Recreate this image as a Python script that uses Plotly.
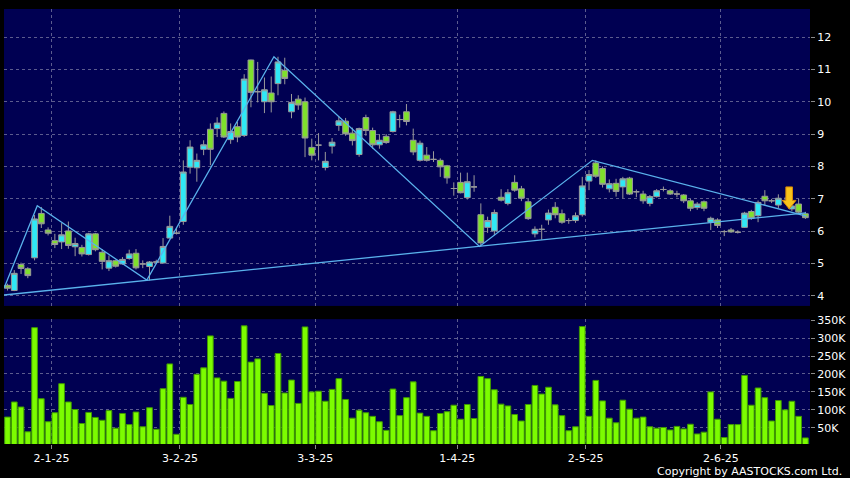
import plotly.graph_objects as go

# ---------------- data ----------------
opens = [4.33, 4.17, 4.97, 4.84, 5.18, 6.55, 6.04, 5.71, 5.67, 6.01,
         5.52, 5.50, 5.28, 5.92, 5.35, 4.86, 5.09, 4.99, 5.16, 5.32,
         4.99, 4.91, 5.05, 5.02, 5.79, 5.94, 6.30, 7.98, 7.96, 8.53,
         9.15, 9.17, 9.64, 8.83, 9.23, 8.96, 11.29, 10.31, 10.00, 10.27,
         10.56, 10.97, 9.69, 10.08, 10.00, 8.59, 8.66, 7.97, 8.63, 9.27,
         9.40, 9.03, 8.37, 9.51, 9.11, 8.67, 8.93, 9.08, 9.45, 9.69,
         8.81, 8.19, 8.35, 8.22, 8.19, 8.02, 7.32, 7.51, 7.04, 7.37,
         6.51, 6.12, 6.01, 7.05, 6.86, 7.51, 7.31, 6.91, 5.92, 6.06,
         6.35, 6.74, 6.54, 6.33, 6.33, 6.51, 7.55, 8.11, 7.94, 7.31,
         7.48, 7.37, 7.64, 7.22, 7.15, 6.86, 7.07, 7.29, 7.25, 7.15,
         7.12, 6.94, 6.73, 6.91, 6.28, 6.35, 5.99, 6.04, 5.97, 6.12,
         6.61, 6.48, 7.08, 6.94, 6.81, 6.95, 6.69, 6.84, 6.54]
highs = [4.38, 4.80, 5.03, 4.89, 6.50, 6.75, 6.12, 5.92, 6.25, 6.30,
         5.80, 5.58, 5.95, 5.95, 5.45, 5.25, 5.12, 5.20, 5.43, 5.45,
         5.10, 5.08, 5.12, 5.79, 6.48, 6.10, 8.19, 8.81, 8.40, 8.81,
         9.33, 9.52, 9.70, 9.33, 9.38, 10.85, 11.30, 11.23, 10.75, 10.78,
         11.39, 11.36, 10.24, 10.20, 10.13, 8.86, 9.03, 8.45, 8.88, 9.55,
         9.50, 9.20, 9.20, 9.60, 9.20, 9.00, 9.00, 9.72, 9.60, 9.93,
         9.17, 8.80, 8.60, 8.47, 8.25, 8.05, 7.51, 7.81, 7.81, 7.73,
         6.86, 6.45, 6.67, 7.30, 7.30, 7.73, 7.40, 7.00, 6.15, 6.20,
         6.67, 6.90, 6.67, 6.40, 6.58, 7.68, 7.89, 8.19, 8.00, 7.60,
         7.62, 7.68, 7.68, 7.29, 7.25, 7.12, 7.30, 7.38, 7.30, 7.25,
         7.15, 7.00, 6.90, 6.95, 6.45, 6.40, 6.04, 6.10, 6.03, 6.60,
         6.66, 6.95, 7.27, 7.00, 7.14, 7.05, 6.85, 7.00, 6.60]
lows = [4.17, 4.15, 4.68, 4.55, 5.10, 6.10, 5.87, 5.48, 5.45, 5.46,
        5.23, 5.22, 5.25, 5.38, 4.82, 4.77, 4.88, 4.97, 5.12, 4.82,
        4.86, 4.48, 5.02, 5.00, 5.78, 5.90, 6.20, 7.78, 7.53, 8.35,
        8.04, 8.91, 8.88, 8.70, 8.75, 8.91, 9.83, 9.98, 9.65, 9.67,
        10.20, 10.54, 9.49, 9.75, 8.29, 8.19, 8.19, 7.88, 8.40, 9.10,
        8.95, 8.65, 8.30, 8.95, 8.55, 8.55, 8.70, 9.05, 9.20, 9.27,
        8.35, 8.15, 8.15, 8.14, 7.68, 7.47, 7.10, 7.17, 6.98, 7.22,
        5.53, 5.95, 5.88, 6.92, 6.80, 7.22, 6.93, 6.35, 5.81, 5.74,
        6.20, 6.40, 6.23, 6.23, 6.26, 6.45, 7.27, 7.65, 7.35, 7.20,
        7.07, 7.02, 7.12, 7.05, 6.85, 6.77, 7.04, 7.23, 7.12, 7.05,
        6.87, 6.62, 6.66, 6.62, 6.04, 6.10, 5.85, 5.95, 5.93, 6.10,
        6.35, 6.28, 6.81, 6.87, 6.72, 6.85, 6.62, 6.55, 6.38]
closes = [4.24, 4.70, 4.85, 4.63, 6.38, 6.23, 5.94, 5.59, 5.89, 5.56,
          5.62, 5.30, 5.92, 5.43, 5.07, 5.09, 4.92, 5.13, 5.30, 4.87,
          4.99, 5.05, 5.05, 5.53, 6.15, 5.94, 7.83, 8.60, 8.19, 8.67,
          8.53, 9.34, 8.91, 9.08, 8.91, 10.70, 10.29, 10.31, 10.37, 10.00,
          11.23, 10.72, 9.98, 9.90, 8.88, 8.35, 8.66, 8.16, 8.75, 9.41,
          9.01, 8.80, 9.17, 9.11, 8.67, 8.81, 8.74, 9.69, 9.45, 9.39,
          8.45, 8.72, 8.19, 8.22, 7.99, 7.65, 7.32, 7.19, 7.53, 7.37,
          5.64, 6.33, 6.58, 6.96, 7.19, 7.27, 7.02, 6.39, 6.06, 6.06,
          6.56, 6.51, 6.28, 6.33, 6.48, 7.40, 7.75, 7.70, 7.45, 7.47,
          7.23, 7.62, 7.15, 7.22, 6.94, 7.07, 7.25, 7.29, 7.15, 7.15,
          6.94, 6.71, 6.84, 6.71, 6.40, 6.18, 5.99, 5.98, 5.97, 6.56,
          6.40, 6.89, 6.94, 6.94, 7.02, 6.95, 6.78, 6.59, 6.42]
volumes = [80000, 122000, 108000, 39000, 329000, 131000, 67000, 92000, 173000, 122000,
           101000, 62000, 93000, 79000, 71000, 98000, 49000, 90000, 59000, 94000,
           53000, 106000, 46000, 159000, 228000, 32000, 135000, 115000, 199000, 217000,
           306000, 189000, 180000, 132000, 179000, 334000, 233000, 242000, 146000, 112000,
           257000, 147000, 183000, 118000, 331000, 150000, 152000, 124000, 157000, 187000,
           129000, 77000, 99000, 92000, 82000, 67000, 43000, 158000, 84000, 134000,
           178000, 91000, 82000, 42000, 90000, 95000, 113000, 74000, 115000, 76000,
           193000, 187000, 156000, 116000, 111000, 87000, 69000, 115000, 168000, 144000,
           163000, 114000, 84000, 42000, 53000, 332000, 82000, 182000, 125000, 77000,
           64000, 127000, 102000, 77000, 80000, 53000, 49000, 51000, 44000, 54000,
           47000, 60000, 33000, 38000, 150000, 74000, 23000, 59000, 59000, 196000,
           113000, 161000, 134000, 69000, 126000, 100000, 124000, 82000, 22000]
day_index = list(range(len(opens)))

date_tick_positions = [6.5, 25.5, 45.5, 66.5, 85.5, 105.5]
date_tick_labels = ["2-1-25", "3-2-25", "3-3-25", "1-4-25", "2-5-25", "2-6-25"]

price_ticks = [4, 5, 6, 7, 8, 9, 10, 11, 12]
volume_ticks = [50000, 100000, 150000, 200000, 250000, 300000, 350000]
volume_tick_labels = ["50K", "100K", "150K", "200K", "250K", "300K", "350K"]

zigzag_index = [-0.52, 4.4, 20.6, 39.4, 69.8, 86.5, 118.1]
zigzag_price = [4.24, 6.79, 4.49, 11.39, 5.53, 8.19, 6.47]
support_index = [-0.52, 118.1]
support_price = [4.03, 6.57]

signal_index = 115.6
signal_price = 6.69

# ---------------- styling ----------------
BG = "#000000"
PANEL = "#000052"
GRID = "#5c5c8e"
TEXT = "#ffffff"
CYAN = "#2fe8f6"
LIME = "#7fe02c"
WICK = "#9a9a9a"
LINE = "#5ab2ec"
FONT = "DejaVu Sans"

fig = go.Figure()

fig.add_trace(go.Candlestick(
    x=day_index, open=opens, high=highs, low=lows, close=closes,
    increasing=dict(fillcolor=CYAN, line=dict(color=WICK, width=1)),
    decreasing=dict(fillcolor=LIME, line=dict(color=WICK, width=1)),
    xaxis="x", yaxis="y", showlegend=False, hoverinfo="skip",
))

fig.add_trace(go.Scatter(
    x=support_index, y=support_price, mode="lines",
    line=dict(color=LINE, width=1.3), xaxis="x", yaxis="y",
    showlegend=False, hoverinfo="skip",
))
fig.add_trace(go.Scatter(
    x=zigzag_index, y=zigzag_price, mode="lines",
    line=dict(color=LINE, width=1.3), xaxis="x", yaxis="y",
    showlegend=False, hoverinfo="skip",
))

fig.add_trace(go.Bar(
    x=day_index, y=volumes, marker=dict(color="#7cfc00", line=dict(color="#3f9a00", width=1)),
    xaxis="x2", yaxis="y2", showlegend=False, hoverinfo="skip",
))

# sell-signal arrow (pixel-sized path anchored at the signal point)
fig.add_shape(
    type="path", xref="x", yref="y",
    xsizemode="pixel", ysizemode="pixel",
    xanchor=signal_index, yanchor=signal_price,
    path="M -3.3,22 L 3.3,22 L 3.3,8.5 L 6.8,8.5 L 0,0 L -6.8,8.5 L -3.3,8.5 Z",
    fillcolor="#f7c21b", line=dict(color="#d98a05", width=1),
)

axis_common = dict(
    showline=False, zeroline=False, gridcolor=GRID, gridwidth=1, griddash="3px,3px",
    tickfont=dict(family=FONT, size=11, color=TEXT),
    ticks="outside", tickcolor="#8a8a8a", ticklen=4,
)

fig.update_layout(
    width=850, height=478,
    margin=dict(l=4, r=39, t=6, b=34),
    paper_bgcolor=BG, plot_bgcolor=PANEL,
    font=dict(family=FONT, color=TEXT),
    boxgap=0.15, boxgroupgap=0, bargap=0.16,
    showlegend=False,
    xaxis=dict(axis_common, domain=[0, 1], range=[-0.52, 118.68], anchor="y",
               tickvals=date_tick_positions, ticktext=date_tick_labels,
               showticklabels=False, ticks="", rangeslider=dict(visible=False)),
    yaxis=dict(axis_common, domain=[0.3174, 1], range=[3.693, 12.865], side="right",
               tickvals=price_ticks, ticktext=[str(v) for v in price_ticks], anchor="x"),
    xaxis2=dict(axis_common, domain=[0, 1], range=[-0.52, 118.68], anchor="y2", matches="x",
                tickvals=date_tick_positions, ticktext=date_tick_labels),
    yaxis2=dict(axis_common, domain=[0, 0.287], range=[5000, 352600], side="right",
                tickvals=volume_ticks, ticktext=volume_tick_labels, anchor="x2"),
    annotations=[dict(
        text="Copyright by AASTOCKS.com Ltd.", xref="paper", yref="paper",
        x=1.042, y=-0.063, xanchor="right", yanchor="middle", showarrow=False,
        font=dict(family=FONT, size=11, color=TEXT),
    )],
)

fig.write_html(
    "out.html",
    config={"displayModeBar": False},
    post_script="document.body.style.margin='0';document.body.style.background='#000';",
)
